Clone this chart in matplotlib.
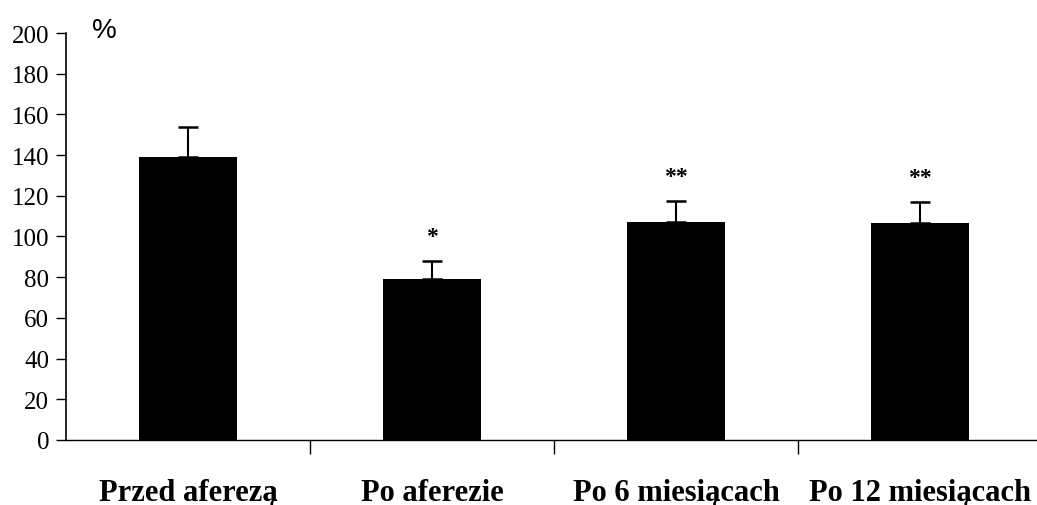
import matplotlib
matplotlib.use("Agg")
import matplotlib.pyplot as plt

categories = ["Przed aferezą", "Po aferezie", "Po 6 miesiącach", "Po 12 miesiącach"]
values = [139, 79, 107, 106.5]
errors = [15, 9, 10.5, 10.5]
marks = ["", "*", "**", "**"]
yticks = [0, 20, 40, 60, 80, 100, 120, 140, 160, 180, 200]

fig = plt.figure(figsize=(10.37, 5.06), dpi=100)
ax = fig.add_axes([0.0636, 0.1285, 0.9412, 0.8043])

x = list(range(len(categories)))
ax.bar(x, values, width=0.4, color="black", zorder=2)
ax.errorbar(x, values, yerr=[[0] * len(errors), errors], fmt="none",
            ecolor="black", elinewidth=1.5, capsize=7, capthick=1.8, zorder=3)

for xi, v, e, m in zip(x, values, errors, marks):
    if m:
        ax.text(xi, v + e + 12, m, ha="center", va="center",
                fontsize=17, fontweight="bold", family="Liberation Serif")

ax.set_xlim(-0.5, len(categories) - 0.5)
ax.set_ylim(0, 200)
ax.set_yticks(yticks)
ax.set_yticklabels([str(t) for t in yticks], family="Liberation Serif", fontsize=18)
ax.tick_params(axis="y", direction="out", length=7, width=1, pad=5)

# category separators as x ticks
ax.set_xticks([i + 0.5 for i in range(len(categories) - 1)])
ax.set_xticklabels([])
ax.tick_params(axis="x", direction="out", length=10, width=1)

for xi, c in zip(x, categories):
    ax.text(xi, -0.128, c, transform=ax.get_xaxis_transform(), ha="center", va="center",
            fontsize=22, fontweight="bold", family="Liberation Serif")

ax.spines["top"].set_visible(False)
ax.spines["right"].set_visible(False)
ax.spines["left"].set_linewidth(1.2)
ax.spines["bottom"].set_linewidth(1.0)

fig.text(0.101, 0.938, "%", fontsize=20, family="Liberation Sans", ha="center", va="center")

fig.savefig("out.png", dpi=100)
